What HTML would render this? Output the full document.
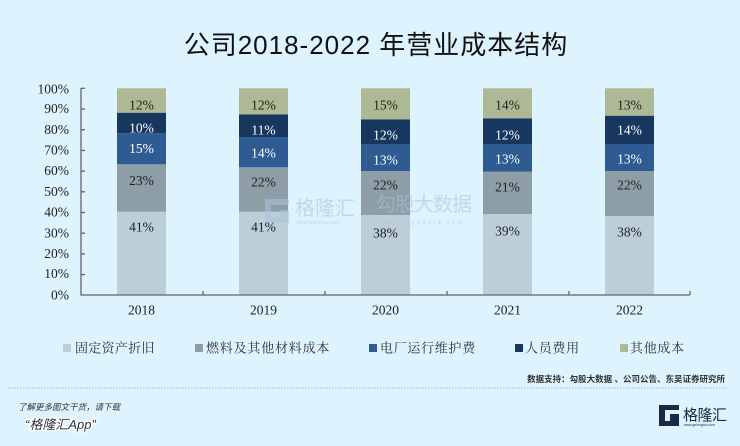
<!DOCTYPE html>
<html><head><meta charset="utf-8">
<style>
html,body{margin:0;padding:0;background:#ddf3fd;}
svg{display:block;}
.t{font-family:"Liberation Serif","Noto Serif CJK SC",serif;font-size:13.5px;}
.cj{font-family:"Liberation Sans","Noto Sans CJK SC",sans-serif;}
</style></head>
<body>
<svg width="740" height="446" viewBox="0 0 740 446" xmlns="http://www.w3.org/2000/svg">
<rect width="740" height="446" fill="#ddf3fd"/>
<text x="376" y="54" text-anchor="middle" class="cj" font-size="26" letter-spacing="1" fill="#111">公司2018-2022 年营业成本结构</text>

<!-- bars -->
<g>
<rect x="117" y="211.7" width="49" height="83.3" fill="#bccfd8"/>
<rect x="117" y="164.3" width="49" height="47.4" fill="#8e9ea7"/>
<rect x="117" y="133.3" width="49" height="31" fill="#2e5c92"/>
<rect x="117" y="112.7" width="49" height="20.6" fill="#17375f"/>
<rect x="117" y="88.3" width="49" height="24.4" fill="#adb995"/>

<rect x="239" y="211.7" width="49" height="83.3" fill="#bccfd8"/>
<rect x="239" y="167.3" width="49" height="44.4" fill="#8e9ea7"/>
<rect x="239" y="137" width="49" height="30.3" fill="#2e5c92"/>
<rect x="239" y="114.3" width="49" height="22.7" fill="#17375f"/>
<rect x="239" y="88.3" width="49" height="26" fill="#adb995"/>

<rect x="361" y="215" width="49" height="80" fill="#bccfd8"/>
<rect x="361" y="171" width="49" height="44" fill="#8e9ea7"/>
<rect x="361" y="144" width="49" height="27" fill="#2e5c92"/>
<rect x="361" y="119.3" width="49" height="24.7" fill="#17375f"/>
<rect x="361" y="88.3" width="49" height="31" fill="#adb995"/>

<rect x="483" y="214" width="49" height="81" fill="#bccfd8"/>
<rect x="483" y="171.7" width="49" height="42.3" fill="#8e9ea7"/>
<rect x="483" y="144" width="49" height="27.7" fill="#2e5c92"/>
<rect x="483" y="118.3" width="49" height="25.7" fill="#17375f"/>
<rect x="483" y="88.3" width="49" height="30" fill="#adb995"/>

<rect x="605" y="216" width="49" height="79" fill="#bccfd8"/>
<rect x="605" y="171" width="49" height="45" fill="#8e9ea7"/>
<rect x="605" y="144" width="49" height="27" fill="#2e5c92"/>
<rect x="605" y="115.7" width="49" height="28.3" fill="#17375f"/>
<rect x="605" y="88.3" width="49" height="27.4" fill="#adb995"/>
</g>

<!-- watermark -->
<g opacity="0.55">
<path d="M265 199 h24 v6 h-18 v12 h18 v6 h-24 z" fill="#a9c3dc"/>
<path d="M280 210 h9 v13 h-5 l-4 -5 z" fill="#a9c3dc"/>
<text x="295" y="215" class="cj" font-size="20" fill="#a9c3dc">格隆汇</text>
<text x="296" y="224" class="cj" font-size="5" fill="#a9c3dc">www.gelonghui.com</text>
<text x="376" y="211" class="cj" font-size="20" fill="#a9c3dc" letter-spacing="-1">勾股大数据</text>
<text x="377" y="224" class="cj" font-size="6" fill="#a9c3dc" letter-spacing="2.2">www.gogudata.com</text>
</g>

<!-- data labels -->
<g class="t" text-anchor="middle" dominant-baseline="central">
<text x="141.5" y="105" fill="#222">12%</text>
<text x="141.5" y="128" fill="#fff">10%</text>
<text x="141.5" y="148.5" fill="#fff">15%</text>
<text x="141.5" y="180.5" fill="#222">23%</text>
<text x="141.5" y="227" fill="#222">41%</text>

<text x="263.5" y="105" fill="#222">12%</text>
<text x="263.5" y="130" fill="#fff">11%</text>
<text x="263.5" y="153" fill="#fff">14%</text>
<text x="263.5" y="182" fill="#222">22%</text>
<text x="263.5" y="227" fill="#222">41%</text>

<text x="385.5" y="105" fill="#222">15%</text>
<text x="385.5" y="135" fill="#fff">12%</text>
<text x="385.5" y="160" fill="#fff">13%</text>
<text x="385.5" y="185" fill="#222">22%</text>
<text x="385.5" y="233" fill="#222">38%</text>

<text x="507.5" y="105" fill="#222">14%</text>
<text x="507.5" y="135" fill="#fff">12%</text>
<text x="507.5" y="159" fill="#fff">13%</text>
<text x="507.5" y="187" fill="#222">21%</text>
<text x="507.5" y="231" fill="#222">39%</text>

<text x="629.5" y="105" fill="#222">13%</text>
<text x="629.5" y="130" fill="#fff">14%</text>
<text x="629.5" y="159" fill="#fff">13%</text>
<text x="629.5" y="185" fill="#222">22%</text>
<text x="629.5" y="232" fill="#222">38%</text>
</g>

<!-- axes -->
<g stroke="#666" stroke-width="1.3" fill="none">
<line x1="81" y1="88" x2="81" y2="295.5"/>
<line x1="81" y1="295" x2="690" y2="295"/>
<line x1="81" y1="88.3" x2="85" y2="88.3"/>
<line x1="81" y1="109" x2="85" y2="109"/>
<line x1="81" y1="129.7" x2="85" y2="129.7"/>
<line x1="81" y1="150.4" x2="85" y2="150.4"/>
<line x1="81" y1="171.1" x2="85" y2="171.1"/>
<line x1="81" y1="191.8" x2="85" y2="191.8"/>
<line x1="81" y1="212.5" x2="85" y2="212.5"/>
<line x1="81" y1="233.2" x2="85" y2="233.2"/>
<line x1="81" y1="253.9" x2="85" y2="253.9"/>
<line x1="81" y1="274.6" x2="85" y2="274.6"/>
<line x1="203" y1="291" x2="203" y2="295"/>
<line x1="325" y1="291" x2="325" y2="295"/>
<line x1="447" y1="291" x2="447" y2="295"/>
<line x1="569" y1="291" x2="569" y2="295"/>
<line x1="690" y1="291" x2="690" y2="295"/>
</g>

<g class="t" text-anchor="end" dominant-baseline="central" fill="#222">
<text x="69" y="89">100%</text>
<text x="69" y="108.5">90%</text>
<text x="69" y="129.3">80%</text>
<text x="69" y="150">70%</text>
<text x="69" y="170.7">60%</text>
<text x="69" y="191.7">50%</text>
<text x="69" y="212">40%</text>
<text x="69" y="233">30%</text>
<text x="69" y="253.5">20%</text>
<text x="69" y="273.5">10%</text>
<text x="69" y="295">0%</text>
</g>

<g class="t" text-anchor="middle" dominant-baseline="central" fill="#222">
<text x="141.5" y="310">2018</text>
<text x="263.5" y="310">2019</text>
<text x="385.5" y="310">2020</text>
<text x="507.5" y="310">2021</text>
<text x="629.5" y="310">2022</text>
</g>

<!-- legend -->
<g font-family="'Liberation Serif','Noto Serif CJK SC',serif" font-size="13" fill="#333" dominant-baseline="central">
<rect x="63" y="344" width="8" height="8" fill="#bccfd8"/>
<text x="75" y="348" letter-spacing="0.3">固定资产折旧</text>
<rect x="195" y="344" width="8" height="8" fill="#8e9ea7"/>
<text x="206" y="348" letter-spacing="0.8">燃料及其他材料成本</text>
<rect x="369" y="344" width="8" height="8" fill="#2e5c92"/>
<text x="380" y="348" letter-spacing="0.7">电厂运行维护费</text>
<rect x="515" y="344" width="8" height="8" fill="#17375f"/>
<text x="525" y="348" letter-spacing="0.7">人员费用</text>
<rect x="620" y="344" width="8" height="8" fill="#adb995"/>
<text x="630" y="348" letter-spacing="0.7">其他成本</text>
</g>

<text x="725" y="382" text-anchor="end" class="cj" font-size="8.5" fill="#333" font-weight="bold">数据支持：勾股大数据 、公司公告、东吴证券研究所</text>
<line x1="8" y1="388" x2="728" y2="388" stroke="#a9b6bf" stroke-width="1" stroke-dasharray="1.5,1.5"/>

<text x="18" y="410" class="cj" font-size="8.5" font-style="italic" fill="#333">了解更多图文干货，请下载</text>
<text x="25" y="429" class="cj" font-size="13" font-style="italic" fill="#333" stroke="#fff" stroke-width="2.5" paint-order="stroke">“格隆汇App”</text>

<!-- logo -->
<path d="M659 405 h20 v5 h-14 v11 h14 v5 h-20 z" fill="#1b2a44"/>
<path d="M670 414 h9 v12 h-4 l-5 -5 z" fill="#1b2a44"/>
<text x="683" y="420" class="cj" font-size="15" fill="#1b2a44" letter-spacing="-0.5">格隆汇</text>
<text x="684" y="426" class="cj" font-size="3.5" fill="#1b2a44">www.gelonghui.com</text>
</svg>
</body></html>
